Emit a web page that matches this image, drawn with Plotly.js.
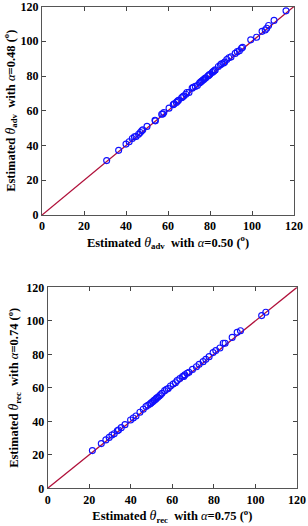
<!DOCTYPE html>
<html><head><meta charset="utf-8">
<script src="https://cdn.plot.ly/plotly-3.0.1.min.js"></script>
<style>html,body{margin:0;padding:0;background:#fff;}</style>
</head><body><div id="chart" style="width:308px;height:526px;"></div>
<script>
// Top panel: advancing angle, alpha=0.50 (x) vs alpha=0.48 (y)
const advX = [30.8,36.5,40.0,41.5,43,44,44.8,46,46.8,47.5,48,50,53.8,54,57,57.5,58,60.5,62.5,63,64,64.5,65,66.5,67,67.5,68.5,69,70,71.5,72,73,74,75,75.5,76,76.5,77,77.5,78,79,79.5,80,81,81.5,82,82.5,84,85,85.5,86.5,87,88,89,90,92,93,94,95,95.5,99.4,102.2,104.8,106.3,107,107.9,110.5,116.2];
const advY = [31.3,37.2,40.8,42.2,44,45,45.2,46.5,47.5,48.5,49,51,54.5,54.2,58,58.2,59,61.5,63.5,64,64.8,65.5,66,67.5,68,68.5,69.5,70.5,70.5,73,73.5,74,74.5,76,76.5,77,77.5,78,78.5,79,80,80.5,81,82,82.5,83,83.5,85.5,86.5,87,87.5,88,89.5,90.5,91,93,94,94.5,96,96.5,100.8,102.3,105.7,106.5,107.5,109.1,112,117.5];
// Bottom panel: receding angle, alpha=0.75 (x) vs alpha=0.74 (y)
const recX = [21.5,25.8,28.0,29.6,30.9,32,33.5,34.1,35.4,37.2,39.9,41.2,42.5,44.4,46,47.3,48.2,49.2,50.5,51.4,52.4,53.7,55,56.3,57.2,59.1,60.4,62.3,63.6,64.9,66,67.1,69.7,71.6,72.9,74.8,76.1,77.7,79.6,80.9,82.9,84.5,85.4,88.8,91.2,92.8,103.0,105.0,49.8,51.0,52.0,53.0,54.3,58.0,61.5,65.5,68.0];
const recY = [22.5,26.7,28.9,30.4,31.8,32.6,34.4,34.8,36.2,38,40.8,42,43.2,45.4,47.2,48.8,49.6,50.3,51.7,52.7,53.9,55.1,56.7,58.3,59.1,61.1,62.3,64.3,65.5,66.7,67.7,68.7,71,72.6,74,75.6,77,78.6,81,82.2,83.8,86.6,86.6,90.1,93.1,94.1,103.1,105.1,51.0,52.2,53.2,54.3,55.8,59.6,63.0,66.8,69.3];
const diag = [0,120];
const ticks = [0,20,40,60,80,100,120];

const fam = '"Liberation Serif", "Times New Roman", serif';
const tickFont = {family:fam, size:12, color:'#000', weight:'bold'};
const axBase = {range:[0,120], tickvals:ticks, ticktext:ticks.map(String), ticks:'inside', ticklen:4,
  tickcolor:'#444', showline:true, linecolor:'#555', linewidth:1, mirror:'allticks', showgrid:false,
  zeroline:false, tickfont:tickFont, fixedrange:true, ticklabeloverflow:'allow', automargin:false};
function ax(extra){return Object.assign({}, axBase, extra);}
const mk = {symbol:'circle-open', size:6, color:'#1010ff', line:{width:1.1, color:'#1010ff'}};
const lineStyle = {color:'#b0103a', width:1.3};

const traces = [
  {x:diag, y:diag, mode:'lines', line:lineStyle, xaxis:'x', yaxis:'y', hoverinfo:'skip'},
  {x:advX, y:advY, mode:'markers', marker:mk, xaxis:'x', yaxis:'y'},
  {x:diag, y:diag, mode:'lines', line:lineStyle, xaxis:'x2', yaxis:'y2', hoverinfo:'skip'},
  {x:recX, y:recY, mode:'markers', marker:mk, xaxis:'x2', yaxis:'y2'}
];
const tf = {family:fam, size:12.5, color:'#000'};
function ttl(sub, a){
  return '<b>Estimated </b><span style="font-size:14px"><i>θ</i></span><b><sub>'+sub+'</sub>  with </b><i>α</i><b>='+a+' (<sup>o</sup>)</b>';
}
const layout = {
  width:308, height:526, margin:{l:0,r:0,t:0,b:0}, showlegend:false,
  paper_bgcolor:'#fff', plot_bgcolor:'#fff', font:{family:fam, size:11, color:'#000'},
  xaxis: ax({domain:[42/308, 294/308], anchor:'y', title:{text:ttl('adv','0.50'), font:tf, standoff:0}}),
  yaxis: ax({domain:[1-215/526, 1-6.5/526], anchor:'x', title:{text:ttl('adv','0.48'), font:tf, standoff:2}}),
  xaxis2: ax({domain:[47.7/308, 297/308], anchor:'y2', title:{text:ttl('rec','0.75'), font:tf, standoff:0}}),
  yaxis2: ax({domain:[1-488.3/526, 1-287.3/526], anchor:'x2', title:{text:ttl('rec','0.74'), font:tf, standoff:4}})
};
Plotly.newPlot('chart', traces, layout, {staticPlot:true, displayModeBar:false});
</script></body></html>
